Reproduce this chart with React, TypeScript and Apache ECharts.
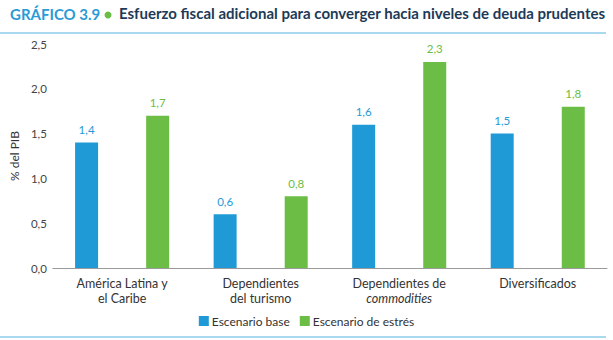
import React, { useEffect, useRef } from "react";
import * as echarts from "echarts";

const categories = ["América Latina y\nel Caribe", "Dependientes\ndel turismo", "Dependientes de\n{it|commodities}", "Diversificados"];
const baseValues = [1.4, 0.6, 1.6, 1.5];
const stressValues = [1.7, 0.8, 2.3, 1.8];
const seriesNames = ["Escenario base", "Escenario de estrés"];

const BLUE = "#1f9ad6";
const GREEN = "#6cbd45";
const FONT = "Lato, 'Noto Sans', sans-serif";

export default function App() {
  const ref = useRef<HTMLDivElement>(null);
  useEffect(() => {
    if (!ref.current) return;
    const chart = echarts.init(ref.current, null, { renderer: "svg" });
    const fmt = (p: any) => String(p.value).replace(".", ",");
    chart.setOption({
      animation: false,
      textStyle: { fontFamily: FONT },
      graphic: [
        { type: "text", left: 10, top: 6, style: { text: "GRÁFICO 3.9", font: `bold 15px ${FONT}`, fill: "#2a9bd6" } },
        { type: "circle", shape: { cx: 108, cy: 15, r: 3.5 }, style: { fill: GREEN } },
        { type: "text", left: 119, top: 5, style: { text: "Esfuerzo fiscal adicional para converger hacia niveles de deuda prudentes", font: `bold 15px ${FONT}`, fill: "#1d3a57" } },
        { type: "line", shape: { x1: 0, y1: 33, x2: 606, y2: 33 }, style: { stroke: "#8ccbea", lineWidth: 1.5 } },
        { type: "line", shape: { x1: 0, y1: 337, x2: 606, y2: 337 }, style: { stroke: "#8ccbea", lineWidth: 1.5 } },
      ],
      grid: { left: 48, right: 6, top: 44, bottom: 72, containLabel: false },
      legend: {
        bottom: 8,
        left: "center",
        itemWidth: 10,
        itemHeight: 10,
        itemGap: 10,
        icon: "rect",
        textStyle: { fontSize: 12, color: "#333", fontFamily: FONT, padding: [0, 0, 0, -2] },
        data: seriesNames,
      },
      xAxis: {
        type: "category",
        data: categories,
        axisLine: { lineStyle: { color: "#9a9a9a", width: 1 } },
        axisTick: { show: false },
        axisLabel: {
          fontSize: 12.5,
          color: "#333",
          lineHeight: 15,
          margin: 8,
          interval: 0,
          rich: { it: { fontStyle: "italic", fontSize: 12.5, color: "#333", lineHeight: 15 } },
        },
      },
      yAxis: {
        type: "value",
        min: 0,
        max: 2.5,
        interval: 0.5,
        name: "% del PIB",
        nameLocation: "middle",
        nameGap: 30,
        nameRotate: 90,
        nameTextStyle: { fontSize: 12, color: "#333" },
        axisLine: { show: false },
        axisTick: { show: false },
        splitLine: { show: false },
        axisLabel: {
          fontSize: 11.5,
          color: "#444",
          margin: 6,
          formatter: (v: number) => v.toFixed(1).replace(".", ","),
        },
      },
      series: [
        {
          name: seriesNames[0],
          type: "bar",
          data: baseValues,
          barWidth: 23,
          barGap: "209%",
          itemStyle: { color: BLUE },
          label: { show: true, position: "top", distance: 7, color: BLUE, fontSize: 11.5, formatter: fmt },
        },
        {
          name: seriesNames[1],
          type: "bar",
          data: stressValues,
          barWidth: 23,
          itemStyle: { color: GREEN },
          label: { show: true, position: "top", distance: 7, color: GREEN, fontSize: 11.5, formatter: fmt },
        },
      ],
    });
    return () => chart.dispose();
  }, []);
  return <div ref={ref} style={{ width: 613, height: 340, position: "absolute", left: 0, top: 0, background: "#fff" }} />;
}
